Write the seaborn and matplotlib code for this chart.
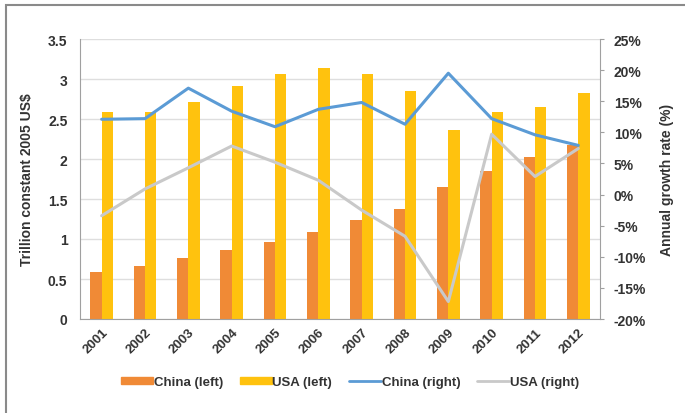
import matplotlib
matplotlib.use("Agg")
import matplotlib.pyplot as plt
import matplotlib.patches as mpatches
import matplotlib.lines as mlines
from matplotlib.ticker import FuncFormatter
import numpy as np
import pandas as pd
import seaborn as sns

years = ["2001", "2002", "2003", "2004", "2005", "2006",
         "2007", "2008", "2009", "2010", "2011", "2012"]
china_gdp = [0.59, 0.66, 0.76, 0.86, 0.96, 1.09, 1.24, 1.38, 1.65, 1.85, 2.02, 2.17]
usa_gdp = [2.59, 2.59, 2.71, 2.91, 3.06, 3.14, 3.06, 2.85, 2.36, 2.59, 2.65, 2.82]
china_growth = [12.1, 12.2, 17.1, 13.4, 10.9, 13.7, 14.8, 11.3, 19.5, 12.2, 9.6, 7.9]
usa_growth = [-3.4, 0.9, 4.3, 7.8, 5.2, 2.3, -2.5, -6.7, -17.2, 9.7, 2.9, 7.4]

c_china_bar = "#F08A36"
c_usa_bar = "#FFC20E"
c_china_line = "#5B9BD5"
c_usa_line = "#C9C9C9"
txt = "#333333"

sns.set_style("white")
plt.rcParams["font.family"] = ["Liberation Sans", "DejaVu Sans"]

bars = pd.DataFrame({
    "year": years * 2,
    "value": china_gdp + usa_gdp,
    "series": ["China (left)"] * 12 + ["USA (left)"] * 12,
})
lines = pd.DataFrame({
    "pos": list(range(12)) * 2,
    "rate": china_growth + usa_growth,
    "series": ["China (right)"] * 12 + ["USA (right)"] * 12,
})

fig = plt.figure(figsize=(6.85, 4.14), dpi=100)
ax = fig.add_axes([80 / 685, 1 - 320 / 414, 520 / 685, 280 / 414])

# outer frame
fig.patches.append(mpatches.Rectangle((6 / 685, -0.05), 1.0, 1 - 6 / 414 + 0.05,
                                      transform=fig.transFigure, fill=False,
                                      edgecolor="#8a8a8a", linewidth=1.5))

sns.barplot(data=bars, x="year", y="value", hue="series", ax=ax,
            palette=[c_china_bar, c_usa_bar], width=0.52, gap=0,
            saturation=1, linewidth=0, legend=False)
ax.set_ylim(0, 3.5)
ax.set_xlim(-0.5, 11.5)
ax.set_yticks(np.arange(0, 3.51, 0.5))
ax.set_yticklabels(["0", "0.5", "1", "1.5", "2", "2.5", "3", "3.5"])
ax.yaxis.grid(True, color="#dedede", linewidth=1)
ax.set_axisbelow(True)
ax.set_xlabel("")
ax.set_ylabel("Trillion constant 2005 US$", fontsize=10, fontweight="bold",
              color=txt, labelpad=10)
for s in ["top", "right"]:
    ax.spines[s].set_visible(False)
for s in ["left", "bottom"]:
    ax.spines[s].set_color("#a0a0a0")
ax.tick_params(axis="y", length=0, labelsize=10, labelcolor=txt, pad=9)
ax.tick_params(axis="x", length=0, labelsize=9.5, labelcolor=txt, pad=5)
for lab in ax.get_xticklabels():
    lab.set_rotation(45)
    lab.set_ha("right")
    lab.set_rotation_mode("anchor")
for lab in ax.get_yticklabels() + ax.get_xticklabels():
    lab.set_fontweight("bold")

ax2 = ax.twinx()
sns.lineplot(data=lines, x="pos", y="rate", hue="series", ax=ax2,
             palette=[c_china_line, c_usa_line], linewidth=2.2, legend=False)
ax2.set_ylim(-20, 25)
ax2.set_yticks(np.arange(-20, 26, 5))
ax2.yaxis.set_major_formatter(FuncFormatter(lambda v, p: f"{v:.0f}%"))
ax2.set_xlim(-0.5, 11.5)
ax2.set_ylabel("Annual growth rate (%)", fontsize=10, fontweight="bold",
               color=txt, labelpad=10)
for s in ["top", "left", "bottom"]:
    ax2.spines[s].set_visible(False)
ax2.spines["right"].set_color("#a0a0a0")
ax2.tick_params(axis="y", length=3, color="#a0a0a0", labelsize=10,
                labelcolor=txt, pad=7)
for lab in ax2.get_yticklabels():
    lab.set_fontweight("bold")

handles = [
    mpatches.Patch(color=c_china_bar, label="China (left)"),
    mpatches.Patch(color=c_usa_bar, label="USA (left)"),
    mlines.Line2D([], [], color=c_china_line, linewidth=2, label="China (right)"),
    mlines.Line2D([], [], color=c_usa_line, linewidth=2, label="USA (right)"),
]
leg = fig.legend(handles=handles, loc="center", bbox_to_anchor=(350 / 685, 1 - 383 / 414),
                 ncol=4, frameon=False, fontsize=9.5, handlelength=2.4,
                 handleheight=0.5, handletextpad=0.05, columnspacing=1.3)
for t in leg.get_texts():
    t.set_color(txt)
    t.set_fontweight("bold")

fig.savefig("out.png", dpi=100)
